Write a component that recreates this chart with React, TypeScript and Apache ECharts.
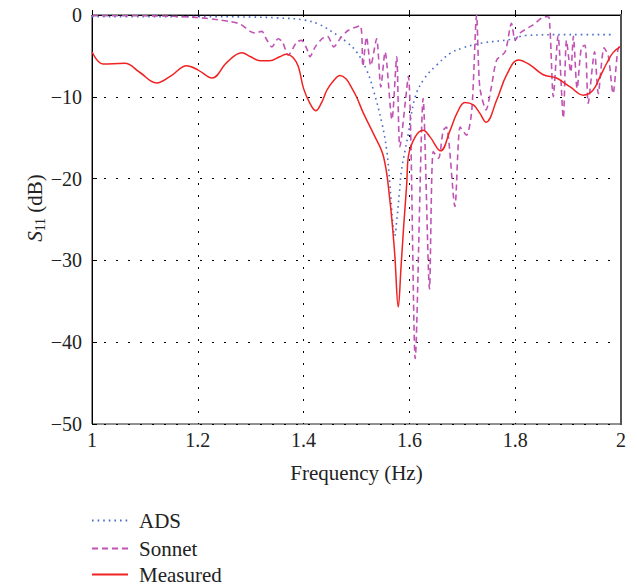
import React, { useEffect, useRef } from "react";
import * as echarts from "echarts";

const adsFreq = [1.0, 1.1, 1.2, 1.3, 1.35, 1.4, 1.431, 1.462, 1.481, 1.5, 1.519, 1.532, 1.548, 1.557, 1.563, 1.568, 1.572, 1.577, 1.581, 1.585, 1.592, 1.598, 1.611, 1.629, 1.652, 1.677, 1.702, 1.74, 1.79, 1.82, 1.9, 1.985];
const adsDb = [-0.2, -0.2, -0.2, -0.25, -0.35, -0.6, -1.2, -2.4, -3.3, -4.5, -6.7, -9.2, -13.2, -16.5, -20.6, -25, -27, -24.5, -21.8, -19, -16.5, -14.5, -10.0, -7.7, -6.1, -4.7, -4.0, -3.4, -3.0, -2.5, -2.4, -2.4];

const sonnetFreq = [1.0, 1.1, 1.15, 1.2, 1.24, 1.261, 1.28, 1.299, 1.308, 1.321, 1.33, 1.34, 1.352, 1.36, 1.371, 1.387, 1.396, 1.406, 1.412, 1.422, 1.435, 1.445, 1.457, 1.47, 1.484, 1.507, 1.512, 1.519, 1.527, 1.538, 1.546, 1.554, 1.567, 1.576, 1.582, 1.598, 1.611, 1.626, 1.638, 1.645, 1.655, 1.664, 1.67, 1.686, 1.696, 1.708, 1.718, 1.727, 1.733, 1.745, 1.755, 1.765, 1.781, 1.793, 1.8, 1.809, 1.834, 1.856, 1.864, 1.872, 1.881, 1.891, 1.897, 1.905, 1.91, 1.917, 1.925, 1.932, 1.938, 1.95, 1.957, 1.968, 1.976, 1.985, 1.994, 2.0];
const sonnetDb = [-0.1, -0.1, -0.15, -0.3, -0.6, -0.8, -1.1, -2.0, -2.2, -2.0, -3.0, -3.9, -2.9, -3.3, -4.9, -3.3, -3.1, -4.1, -5.1, -3.9, -2.9, -2.6, -3.9, -2.8, -1.9, -1.3, -6.3, -2.7, -6.2, -2.9, -8.8, -4.5, -12.8, -5.1, -16.1, -7.5, -42, -10.2, -33.5, -16.7, -17.5, -14.1, -13.7, -23.4, -13.7, -14.7, -11.6, 0, -8.8, -11.6, -8.8, -5.5, -4.5, -1.0, -3.1, -2.2, -1.2, -0.2, -0.3, -10, -2.5, -12.6, -3.1, -7, -2.6, -9, -4, -3.7, -10.8, -4.5, -9.6, -4, -5, -9.6, -4.3, -3.5];

const measFreq = [1.0, 1.021, 1.062, 1.09, 1.122, 1.15, 1.179, 1.2, 1.227, 1.255, 1.283, 1.3, 1.318, 1.336, 1.355, 1.368, 1.38, 1.39, 1.4, 1.412, 1.423, 1.434, 1.444, 1.457, 1.469, 1.48, 1.49, 1.5, 1.513, 1.532, 1.551, 1.563, 1.572, 1.579, 1.584, 1.589, 1.595, 1.598, 1.611, 1.626, 1.639, 1.659, 1.677, 1.69, 1.705, 1.721, 1.733, 1.745, 1.765, 1.784, 1.806, 1.828, 1.853, 1.878, 1.904, 1.929, 1.947, 1.96, 1.973, 1.985, 2.0];
const measDb = [-4.5, -6.0, -5.9, -7.0, -8.3, -7.4, -6.2, -6.7, -7.7, -5.8, -4.6, -5.1, -5.6, -5.6, -5.1, -4.8, -5.2, -6.3, -9.0, -10.8, -11.7, -10.7, -9.2, -8.0, -7.4, -7.8, -8.8, -10.0, -12.0, -14.5, -17.3, -22.6, -29, -35.7, -31, -26, -20.6, -17.3, -14.9, -14.1, -14.9, -16.6, -14.1, -12.0, -10.7, -11.0, -12.0, -13.1, -10.4, -7.3, -5.5, -6.1, -7.3, -7.7, -8.8, -9.8, -9.2, -7.6, -5.9, -4.6, -3.8];

const xTickLabels = ["1", "1.2", "1.4", "1.6", "1.8", "2"];
const yTickLabels = ["\u221250", "\u221240", "\u221230", "\u221220", "\u221210", "0"];
const seriesNames = ["ADS", "Sonnet", "Measured"];

const FONT = "Liberation Serif";

function pairs(xs: number[], ys: number[]) {
  return xs.map((x, i) => [x, ys[i]]);
}

export default function App() {
  const ref = useRef<HTMLDivElement>(null);
  useEffect(() => {
    if (!ref.current) return;
    const chart = echarts.init(ref.current, undefined, { renderer: "svg" });
    const gridDot = { type: [2, 10] as any, color: "#000", width: 1 };
    const legendTops = [510, 538, 564];
    chart.setOption({
      animation: false,
      backgroundColor: "#fff",
      grid: {
        left: 92,
        top: 15,
        right: 16,
        bottom: 162,
        show: true,
        borderColor: "#222",
        borderWidth: 1,
      },
      legend: seriesNames.map((name, i) => ({
        orient: "vertical",
        left: 91,
        top: legendTops[i],
        padding: 0,
        itemWidth: 36,
        itemHeight: 14,
        data: [name],
        itemStyle: { opacity: 0 },
        textStyle: { fontFamily: FONT, fontSize: 21, lineHeight: 20, color: "#222", padding: [0, 0, 0, 6] },
      })),
      xAxis: {
        type: "value",
        min: 1,
        max: 2,
        interval: 0.2,
        name: "Frequency (Hz)",
        nameLocation: "middle",
        nameGap: 38,
        nameTextStyle: { fontFamily: FONT, fontSize: 21, color: "#222" },
        axisLine: { lineStyle: { color: "#000", width: 1 } },
        axisTick: { inside: true, length: 5, lineStyle: { color: "#000" } },
        axisLabel: {
          fontFamily: FONT,
          fontSize: 20,
          color: "#222",
          margin: 6,
          formatter: (v: number) => xTickLabels[Math.round((v - 1) / 0.2)] ?? "",
        },
        splitLine: { show: true, lineStyle: gridDot },
      },
      yAxis: {
        type: "value",
        min: -50,
        max: 0,
        interval: 10,
        axisLine: { show: true, lineStyle: { color: "#000", width: 1 } },
        axisTick: { show: true, inside: true, length: 5, lineStyle: { color: "#000" } },
        axisLabel: {
          fontFamily: FONT,
          fontSize: 20,
          color: "#222",
          margin: 10,
          formatter: (v: number) => yTickLabels[Math.round((v + 50) / 10)] ?? "",
        },
        splitLine: { show: true, lineStyle: gridDot },
      },
      graphic: [
        {
          type: "text",
          x: 35,
          y: 208,
          rotation: Math.PI / 2,
          style: {
            text: "{i|S}{sub|11} (dB)",
            fontFamily: FONT,
            fontSize: 21,
            fill: "#222",
            align: "center",
            verticalAlign: "middle",
            rich: {
              i: { fontStyle: "italic", fontFamily: FONT, fontSize: 21, fill: "#222", lineHeight: 24, verticalAlign: "middle" },
              sub: { fontFamily: FONT, fontSize: 14, fill: "#222", lineHeight: 24, verticalAlign: "bottom", padding: [7, 0, 0, 0] },
            },
          },
        },
        {
          type: "line",
          shape: { x1: 621, y1: 14, x2: 621, y2: 425 },
          style: { stroke: "#555", lineWidth: 2 },
          z: 100,
        },
      ],
      series: [
        {
          name: "ADS",
          type: "line",
          data: pairs(adsFreq, adsDb),
          showSymbol: false,
          symbol: "none",
          smooth: 0.4,
          lineStyle: { color: "#4a6cc4", width: 1.6, type: [1.6, 4] as any },
          itemStyle: { color: "#4a6cc4" },
          z: 3,
        },
        {
          name: "Sonnet",
          type: "line",
          data: pairs(sonnetFreq, sonnetDb),
          showSymbol: false,
          symbol: "none",
          smooth: 0.25,
          lineStyle: { color: "#c054b4", width: 1.6, type: [6, 4] as any },
          itemStyle: { color: "#c054b4" },
          z: 4,
        },
        {
          name: "Measured",
          type: "line",
          data: pairs(measFreq, measDb),
          showSymbol: false,
          symbol: "none",
          smooth: 0.4,
          lineStyle: { color: "#f02222", width: 1.5, type: "solid" },
          itemStyle: { color: "#f02222" },
          z: 5,
        },
      ],
    });
    return () => chart.dispose();
  }, []);
  return <div ref={ref} style={{ position: "absolute", left: 0, top: 0, width: 637, height: 586 }} />;
}
